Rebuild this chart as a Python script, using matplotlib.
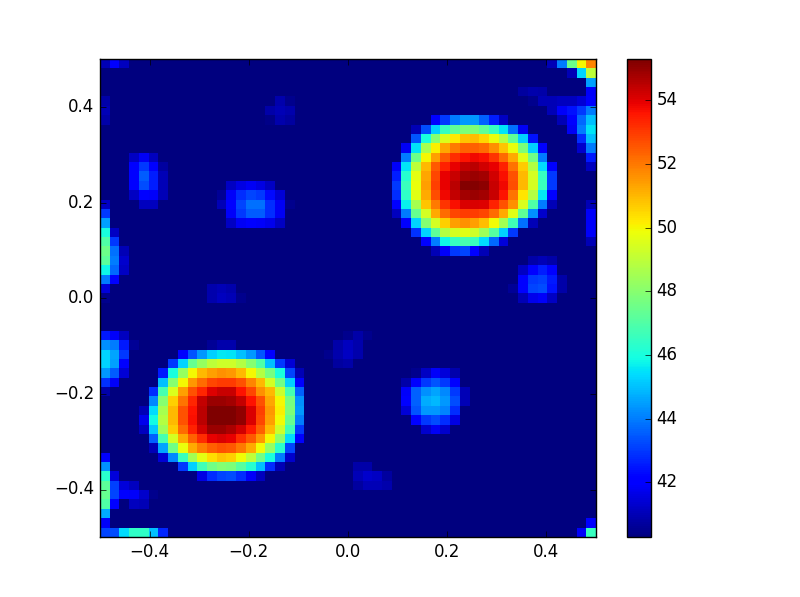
import numpy as np
import matplotlib
matplotlib.use("Agg")
import matplotlib.pyplot as plt

plt.style.use("classic")

# background level of the map
B = 40.3

# 51 x 51 cells, first row is the top of the picture
heat_rows = [
[41,42,41.1,B,B,B,B,B,B,B,  B,B,B,B,B,B,B,B,B,B,  B,B,B,B,B,B,B,B,B,B,  B,B,B,B,B,B,B,B,B,B,  B,B,B,B,B,B,41,44,47.5,50,  51.8],
[B,B,B,B,B,B,B,B,B,B,  B,B,B,B,B,B,B,B,B,B,  B,B,B,B,B,B,B,B,B,B,  B,B,B,B,B,B,B,B,B,B,  B,B,B,B,B,B,B,B,41,45.3,  49],
[B,B,B,B,B,B,B,B,B,B,  B,B,B,B,B,B,B,B,B,B,  B,B,B,B,B,B,B,B,B,B,  B,B,B,B,B,B,B,B,B,B,  B,B,B,B,B,B,B,B,B,B,  44.5],
[B,B,B,B,B,B,B,B,B,B,  B,B,B,B,B,B,B,B,B,B,  B,B,B,B,B,B,B,B,B,B,  B,B,B,B,B,B,B,B,B,B,  B,B,B,40.7,40.9,40.8,B,B,B,B,  41.9],
[40.8,B,B,B,B,B,B,B,B,B,  B,B,B,B,B,B,B,B,40.9,40.5,  B,B,B,B,B,B,B,B,B,B,  B,B,B,B,B,B,B,B,B,B,  B,B,B,B,40.5,41,41,41.1,41.1,41.4,  42],
[41,B,B,B,B,B,B,B,B,B,  B,B,B,B,B,B,B,40.8,41,40.9,  B,B,B,B,B,B,B,B,B,B,  B,B,B,B,B,B,B,B,B,B,  B,B,B,B,B,B,41,41.9,42.4,43,  44],
[40.8,B,B,B,B,B,B,B,B,B,  B,B,B,B,B,B,B,40.4,40.9,40.7,  B,B,B,B,B,B,B,B,B,B,  B,B,B,B,42,43,44,44.4,44.4,43.6,  42.6,41.2,B,B,B,B,B,41,42.2,43.7,  45],
[B,B,B,B,B,B,B,B,B,B,  B,B,B,B,B,B,B,B,B,B,  B,B,B,B,B,B,B,B,B,B,  B,B,41,43.3,45.2,46.5,47.3,47.8,47.8,47.3,  46.5,45.5,43.8,41.8,B,B,B,B,41.8,44,  45.5],
[B,B,B,B,B,B,B,B,B,B,  B,B,B,B,B,B,B,B,B,B,  B,B,B,B,B,B,B,B,B,B,  B,B,43.4,46,48,49.5,50.2,50.8,50.9,50.5,  49.8,48.8,47.3,45.2,42.4,B,B,B,B,42.8,  45],
[B,B,B,B,B,B,B,B,B,B,  B,B,B,B,B,B,B,B,B,B,  B,B,B,B,B,B,B,B,B,B,  B,41.8,45.5,48.6,50.1,51.3,52,52.4,52.4,52.2,  51.6,50.8,49.8,47.8,45.2,42,B,B,B,41.3,  44],
[B,B,B,41.2,41.8,41.1,B,B,B,B,  B,B,B,B,B,B,B,B,B,B,  B,B,B,B,B,B,B,B,B,B,  B,44,47.5,50,51.4,52.5,53.2,53.6,53.8,53.7,  53.1,52.2,51.2,49.6,47.6,44,B,B,B,B,  42.5],
[B,B,B,42,43,42.2,40.7,B,B,B,  B,B,B,B,B,B,B,B,B,B,  B,B,B,B,B,B,B,B,B,B,  41.9,45.5,49,51,52.5,53.4,53.9,54.4,54.5,54.2,  53.9,53.4,52.1,50.7,48.8,45.4,42,B,B,B,  41.1],
[B,B,B,42.2,43.5,42.6,41,B,B,B,  B,B,B,B,B,B,B,B,B,B,  B,B,B,B,B,B,B,B,B,B,  42.6,46.2,49.7,51.3,52.8,53.9,54.3,54.8,54.9,54.8,  54.2,53.7,52.6,51,49.4,46.5,43,B,B,B,  B],
[B,B,B,42,43.3,42.6,41,B,B,B,  B,B,B,41.2,41.6,41.8,41.6,41.2,B,B,  B,B,B,B,B,B,B,B,B,B,  43,46.6,49.8,51.4,52.9,53.9,54.5,55.2,55.2,55.1,  54.3,53.8,52.7,51,49.4,46.6,43,B,B,B,  B],
[B,B,B,41.2,42.2,41.9,41,B,B,B,  B,B,40.6,41.9,42.8,43.2,43,42.3,41.4,B,  B,B,B,B,B,B,B,B,B,B,  42.8,46.4,49.6,51.2,52.7,53.8,54.4,54.8,54.9,54.8,  54.3,53.6,52.1,50.3,48.8,45.6,42,B,B,B,  B],
[41.2,B,B,B,41.1,41.1,B,B,B,B,  B,B,41,42,43.2,43.8,43.8,42.8,41.8,40.5,  B,B,B,B,B,B,B,B,B,B,  42,45.7,48.6,50.8,52,53.1,53.7,54.1,54.1,54,  53.4,52.6,51.6,49.5,47,44,41,B,B,B,  41],
[43,B,B,B,B,B,B,B,B,B,  B,B,B,41.9,43,43.5,43.5,42.8,41.8,B,  B,B,B,B,B,B,B,B,B,B,  41.1,44,47.4,49.4,51.2,52.2,52.8,53,53,52.8,  52.2,51.2,49.6,47.3,44.3,41.3,B,B,B,B,  41.9],
[44.5,B,B,B,B,B,B,B,B,B,  B,B,B,41.2,41.8,42,41.9,41.7,41.2,B,  B,B,B,B,B,B,B,B,B,B,  B,42,45.3,47.9,49.4,50.6,51.4,51.6,51.4,50.9,  49.9,48.5,46.7,43.8,41,B,B,B,B,B,  41.9],
[46,41.2,B,B,B,B,B,B,B,B,  B,B,B,B,B,B,B,B,B,B,  B,B,B,B,B,B,B,B,B,B,  B,B,42.9,45.3,47.3,48.8,49.4,49.6,49.3,48.4,  47.1,45.2,43,B,B,B,B,B,B,B,  41.9],
[47,43,B,B,B,B,B,B,B,B,  B,B,B,B,B,B,B,B,B,B,  B,B,B,B,B,B,B,B,B,B,  B,B,B,42,44,45.8,46.5,46.8,46.6,45.4,  43.7,41.5,B,B,B,B,B,B,B,B,  41],
[47.5,43.8,41,B,B,B,B,B,B,B,  B,B,B,B,B,B,B,B,B,B,  B,B,B,B,B,B,B,B,B,B,  B,B,B,B,41,41.9,43,43.2,42,41,  B,B,B,B,B,B,B,B,B,B,  B],
[47.2,44,41.3,B,B,B,B,B,B,B,  B,B,B,B,B,B,B,B,B,B,  B,B,B,B,B,B,B,B,B,B,  B,B,B,B,B,B,B,B,B,B,  B,B,B,B,40.8,41,40.8,B,B,B,  B],
[45.8,43.7,41.2,B,B,B,B,B,B,B,  B,B,B,B,B,B,B,B,B,B,  B,B,B,B,B,B,B,B,B,B,  B,B,B,B,B,B,B,B,B,B,  B,B,B,41.2,42.1,42.6,42,B,B,B,  B],
[44,42,B,B,B,B,B,B,B,B,  B,B,B,B,B,B,B,B,B,B,  B,B,B,B,B,B,B,B,B,B,  B,B,B,B,B,B,B,B,B,B,  B,B,B,42,43,43.1,42.5,40.8,B,B,  B],
[41.5,B,B,B,B,B,B,B,B,B,  B,40.9,41,40.9,B,B,B,B,B,B,  B,B,B,B,B,B,B,B,B,B,  B,B,B,B,B,B,B,B,B,B,  B,B,40.6,42,43.2,43.3,42.4,40.8,B,B,  B],
[40.5,B,B,B,B,B,B,B,B,B,  B,40.9,41.1,41,40.5,B,B,B,B,B,  B,B,B,B,B,B,B,B,B,B,  B,B,B,B,B,B,B,B,B,B,  B,B,B,41,41.7,41.9,41.2,B,B,B,  B],
[B,B,B,B,B,B,B,B,B,B,  B,B,B,B,B,B,B,B,B,B,  B,B,B,B,B,B,B,B,B,B,  B,B,B,B,B,B,B,B,B,B,  B,B,B,B,B,B,B,B,B,B,  B],
[B,B,B,B,B,B,B,B,B,B,  B,B,B,B,B,B,B,B,B,B,  B,B,B,B,B,B,B,B,B,B,  B,B,B,B,B,B,B,B,B,B,  B,B,B,B,B,B,B,B,B,B,  B],
[B,B,B,B,B,B,B,B,B,B,  B,B,B,B,B,B,B,B,B,B,  B,B,B,B,B,B,B,B,B,B,  B,B,B,B,B,B,B,B,B,B,  B,B,B,B,B,B,B,B,B,B,  B],
[42.5,41.9,41.1,B,B,B,B,B,B,B,  B,B,B,B,B,B,B,B,B,B,  B,B,B,B,B,40.5,40.8,40.5,B,B,  B,B,B,B,B,B,B,B,B,B,  B,B,B,B,B,B,B,B,B,B,  B],
[44.3,44,42.5,40.6,B,B,B,B,B,B,  B,40.6,40.9,40.9,B,B,B,B,B,B,  B,B,B,B,40.8,41.1,40.9,B,B,B,  B,B,B,B,B,B,B,B,B,B,  B,B,B,B,B,B,B,B,B,B,  B],
[45.3,44.6,43,B,B,B,B,B,42,43.4,  44.4,45.2,45.6,45.5,45,44.4,43.4,42,B,B,  B,B,B,40.5,40.9,41.2,40.9,B,B,B,  B,B,B,B,B,B,B,B,B,B,  B,B,B,B,B,B,B,B,B,B,  B],
[45.3,44.5,42,B,B,B,B,43,45.3,47.4,  48.3,49,49.3,49.3,48.8,48,47,45,43,41.4,  B,B,B,B,40.7,40.8,B,B,B,B,  B,B,B,B,B,B,B,B,B,B,  B,B,B,B,B,B,B,B,B,B,  B],
[44.4,43.5,41.4,B,B,B,42.5,46,48.3,50,  51,51.4,51.6,51.5,51,50,48.8,47.7,46,43.2,  41,B,B,B,B,B,B,B,B,B,  B,B,40.5,41.2,41.9,41.5,40.9,B,B,B,  B,B,B,B,B,B,B,B,B,B,  B],
[42.9,41.9,B,B,B,B,45,48,50,51.5,  52.2,52.8,53,53,52.6,51.8,51,49.4,47.6,45.2,  42,B,B,B,B,B,B,B,B,B,  B,40.8,42,43,43.4,43,42,B,B,B,  B,B,B,B,B,B,B,B,B,B,  B],
[40.8,B,B,B,B,42.8,46.8,49.5,51.4,52.6,  53.3,54,54.3,54.3,53.6,52.8,51.6,51,49.2,46.8,  43.6,B,B,B,B,B,B,B,B,B,  B,41.9,43.6,44.3,44.6,44.2,43,41,B,B,  B,B,B,B,B,B,B,B,B,B,  B],
[B,B,B,B,B,44.2,48,50.6,52.1,53.3,  54.4,54.9,54.9,54.8,54.4,53.6,52.6,51.3,50,47.7,  44.3,B,B,B,B,B,B,B,B,B,  B,42,43.6,44.7,44.9,44.4,43.3,41,B,B,  B,B,B,B,B,B,B,B,B,B,  B],
[B,B,B,B,41,45.4,48.6,51,52.6,53.6,  54.5,55.3,55.3,55.3,55,54.1,52.9,51.5,50.1,47.8,  44.4,B,B,B,B,B,B,B,B,B,  B,41.4,43.4,44.4,44.4,44.1,42.8,B,B,B,  B,B,B,B,B,B,B,B,B,B,  B],
[B,B,B,B,41.7,45.9,48.8,51,52.6,53.7,  54.5,55.3,55.3,55.3,55,54.1,52.8,51.4,49.9,47.4,  44,B,B,B,B,B,B,B,B,B,  B,B,42,43,43.3,42.8,41.6,B,B,B,  B,B,B,B,B,B,B,B,B,B,  B],
[B,B,B,B,41.1,45.1,48.4,50.7,52.2,53.4,  54.2,54.9,54.9,54.7,54.2,53.5,52.4,51,49.3,46.7,  43,B,B,B,B,B,B,B,B,B,  B,B,B,41.3,41.8,41.3,B,B,B,B,  B,B,B,B,B,B,B,B,B,B,  B],
[B,B,B,B,B,43.6,46.8,49.4,51.2,52.4,  53.2,53.9,54.1,53.9,53.2,52.5,51.5,50,48.1,45.4,  42,B,B,B,B,B,B,B,B,B,  B,B,B,B,B,B,B,B,B,B,  B,B,B,B,B,B,B,B,B,B,  B],
[B,B,B,B,B,41,44.6,47.6,49.8,51.2,  51.9,52.4,52.6,52.5,52,51.2,49.9,48.2,46.3,43.2,  B,B,B,B,B,B,B,B,B,B,  B,B,B,B,B,B,B,B,B,B,  B,B,B,B,B,B,B,B,B,B,  B],
[42,B,B,B,B,B,41.4,44.2,46.6,48.5,  49.7,50.4,50.8,50.6,49.9,49,47.6,46,44,41.3,  B,B,B,B,B,B,B,B,B,B,  B,B,B,B,B,B,B,B,B,B,  B,B,B,B,B,B,B,B,B,B,  B],
[44.3,B,B,B,B,B,B,B,43,45.2,  46.7,47.6,47.9,47.8,47.1,46.2,45,42.8,41,B,  B,B,B,B,B,B,40.8,40.8,B,B,  B,B,B,B,B,B,B,B,B,B,  B,B,B,B,B,B,B,B,B,B,  B],
[46.3,41.5,B,B,B,B,B,B,B,B,  41.6,42.8,43.2,43.3,42.8,41.9,41.1,B,B,B,  B,B,B,B,B,B,41,41.3,41.2,40.7,  B,B,B,B,B,B,B,B,B,B,  B,B,B,B,B,B,B,B,B,B,  B],
[47.2,43.1,41.5,41.1,B,B,B,B,B,B,  B,B,B,B,B,B,B,B,B,B,  B,B,B,B,B,B,40.7,41,41,40.9,  B,B,B,B,B,B,B,B,B,B,  B,B,B,B,B,B,B,B,B,B,  B],
[47.4,43.2,42,41.9,41.3,40.5,B,B,B,B,  B,B,B,B,B,B,B,B,B,B,  B,B,B,B,B,B,B,B,B,B,  B,B,B,B,B,B,B,B,B,B,  B,B,B,B,B,B,B,B,B,B,  B],
[47,42,B,41.1,41,B,B,B,B,B,  B,B,B,B,B,B,B,B,B,B,  B,B,B,B,B,B,B,B,B,B,  B,B,B,B,B,B,B,B,B,B,  B,B,B,B,B,B,B,B,B,B,  B],
[44.7,B,B,B,B,B,B,B,B,B,  B,B,B,B,B,B,B,B,B,B,  B,B,B,B,B,B,B,B,B,B,  B,B,B,B,B,B,B,B,B,B,  B,B,B,B,B,B,B,B,B,B,  B],
[41.9,B,B,B,B,B,B,B,B,B,  B,B,B,B,B,B,B,B,B,B,  B,B,B,B,B,B,B,B,B,B,  B,B,B,B,B,B,B,B,B,B,  B,B,B,B,B,B,B,B,B,B,  42],
[43.2,43.3,45.4,46.4,46.4,45,42.7,B,B,B,  B,B,B,B,B,B,B,B,B,B,  B,B,B,B,B,B,B,B,B,B,  B,B,B,B,B,B,B,B,B,B,  B,B,B,B,B,B,B,B,B,41.9,  46.5],
]

x_ticks = [-0.4, -0.2, 0.0, 0.2, 0.4]
y_ticks = [-0.4, -0.2, 0.0, 0.2, 0.4]
bar_ticks = [42, 44, 46, 48, 50, 52, 54]
value_min = 40.27
value_max = 55.29

heat = np.array(heat_rows)

fig = plt.figure(figsize=(8, 5.97), dpi=100)
ax = fig.add_axes([0.125, 0.1, 496 / 800, 478 / 597])
cax = fig.add_axes([627 / 800, 0.1, 23.9 / 800, 478 / 597])

im = ax.imshow(heat, cmap="jet", interpolation="nearest", aspect="auto",
               extent=[-0.5, 0.5, -0.5, 0.5], vmin=value_min, vmax=value_max)
ax.set_xticks(x_ticks)
ax.set_yticks(y_ticks)

cbar = fig.colorbar(im, cax=cax, ticks=bar_ticks)
cbar.ax.tick_params(labelsize=12)

fig.savefig("out.png", dpi=100, facecolor="white")
